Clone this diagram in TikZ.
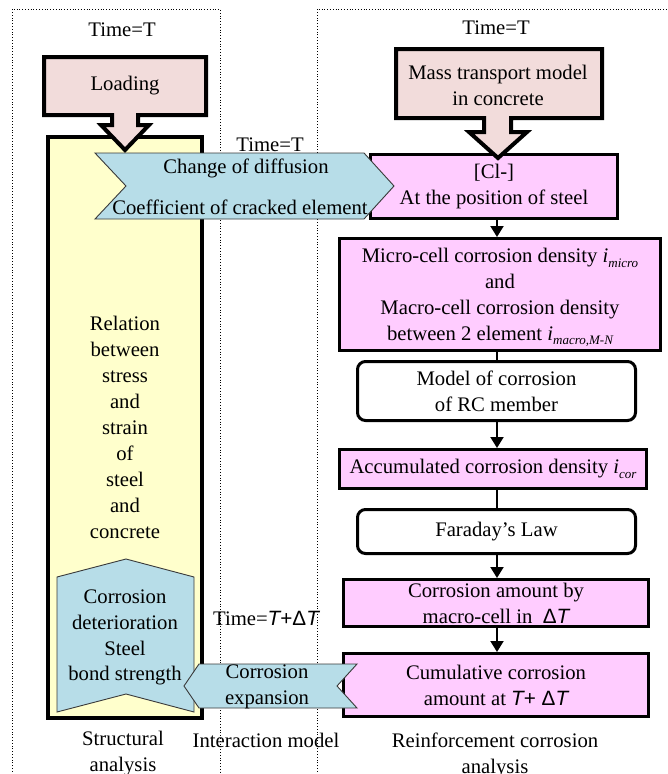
\documentclass[tikz,border=0pt]{standalone}
\usepackage{fontspec}
\setmainfont{Liberation Serif}
\newfontfamily\sfont{Liberation Sans}
\usetikzlibrary{arrows.meta}
\definecolor{loadpink}{HTML}{F2DCDB}
\definecolor{flowpink}{HTML}{FFCCFF}
\definecolor{yellowfill}{HTML}{FFFFCC}
\definecolor{bluefill}{HTML}{B7DDE8}
\definecolor{bluedraw}{HTML}{3A3A3A}
\newcommand{\mysubs}[1]{\raisebox{-4.5pt}[0pt][0pt]{\fontsize{13}{13}\selectfont\itshape #1}}
\newcommand{\sfT}{{\sfont\itshape T}}
\begin{document}
\begin{tikzpicture}[x=1pt,y=-1pt,
  txt/.style={font=\fontsize{20.7}{25.9}\selectfont, align=center, inner sep=0pt},
  flow/.style={draw=black, line width=3pt, fill=flowpink, txt},
  rflow/.style={flow, fill=white, rounded corners=8pt},
  conn/.style={line width=2pt},
  arr/.style={conn, -{Triangle[length=11pt,width=13pt]}},
  blueshape/.style={fill=bluefill, draw=bluedraw, line width=0.9pt},
  heavy/.style={draw=black, line width=4pt, line join=miter},
  panel/.style={dotted, line width=0.8pt}]
\useasboundingbox (0,0) rectangle (667,774);

% panels
\draw[panel] (12,780) -- (12,9) -- (220,9) -- (220,780);
\draw[panel] (317,780) -- (317,9) -- (667,9);

% structural analysis column
\node[heavy, fill=yellowfill, txt, minimum width=154, minimum height=581] (yel) at (125,427.5)
  {Relation\\between\\stress\\and\\strain\\of\\steel\\and\\concrete};
\draw[heavy, fill=loadpink] (44,57) -- (206,57) -- (206,115) -- (138,115) -- (138,125) -- (149,125)
  -- (125,150) -- (101,125) -- (112,125) -- (112,115) -- (44,115) -- cycle;
\node[txt] (loading) at (125,86) {Loading};

% reinforcement corrosion column
\node[flow, minimum width=247, minimum height=64] (cl) at (494,186.5) {[Cl-]\\At the position of steel};
\draw[heavy, fill=loadpink] (396,49) -- (602,49) -- (602,118) -- (511,118) -- (511,132) -- (527,132)
  -- (498,158) -- (469,132) -- (484,132) -- (484,118) -- (396,118) -- cycle;
\node[txt] (mass) at (498,85) {Mass transport model\\in concrete};

\node[flow, minimum width=321, minimum height=112] (micro) at (500,294.5)
  {Micro-cell corrosion density \textit{i}\mysubs{micro}\\and\\Macro-cell corrosion density\\between 2 element \textit{i}\mysubs{macro,M-N}};
\node[rflow, minimum width=278, minimum height=59] (model) at (496.5,391) {Model of corrosion\\of RC member};
\node[flow, minimum width=307, minimum height=39] (accum) at (493,469) {Accumulated corrosion density \textit{i}\mysubs{cor}};
\node[rflow, minimum width=278, minimum height=44] (faraday) at (496.5,531.5) {Faraday’s Law};
\node[flow, minimum width=305, minimum height=47] (amount) at (496,603) {Corrosion amount by\\macro-cell in~ {\sfont Δ}\sfT};
\node[flow, minimum width=305, minimum height=63] (cumul) at (496,685) {Cumulative corrosion\\amount at \sfT{\sfont+ Δ}\sfT};

% connectors
\coordinate (spine) at (497,0);
\draw[arr] (spine |- cl.south) -- (spine |- micro.north);
\draw[conn] (spine |- micro.south) -- (spine |- model.north);
\draw[arr] (spine |- model.south) -- (spine |- accum.north);
\draw[conn] (spine |- accum.south) -- (spine |- faraday.north);
\draw[arr] (spine |- faraday.south) -- (spine |- amount.north);
\draw[arr] (spine |- amount.south) -- (spine |- cumul.north);

% interaction arrows
\draw[blueshape] (95,153) -- (364,153) -- (394,186) -- (364,219) -- (95,219) -- (126,186) -- cycle;
\node[txt] (cd1) at (246,168) {Change of diffusion};
\node[txt] (cd2) at (240,207) {Coefficient of cracked element};

\draw[blueshape] (57,577) -- (126,559) -- (194,577) -- (194,712) -- (126,694) -- (57,712) -- cycle;
\node[txt] (det) at (125,637.5) {Corrosion\\deterioration\\Steel\\bond strength};

\draw[blueshape] (357,664) -- (199,664) -- (184,686) -- (199,708) -- (357,708) -- (337,686) -- cycle;
\node[txt] (exp) at (267,687) {Corrosion\\expansion};

% time labels
\node[txt] (t1) at (122,30) {Time=T};
\node[txt] (t2) at (496,28) {Time=T};
\node[txt] (t3) at (270,145) {Time=T};
\node[txt] (t4) at (266,618) {Time=\sfT{\sfont+Δ}\sfT};

% bottom labels
\node[txt] (sa) at (123,753.5) {Structural\\analysis};
\node[txt] (im) at (266,740) {Interaction model};
\node[txt] (rca) at (495,755) {Reinforcement corrosion\\analysis};
\end{tikzpicture}
\end{document}
